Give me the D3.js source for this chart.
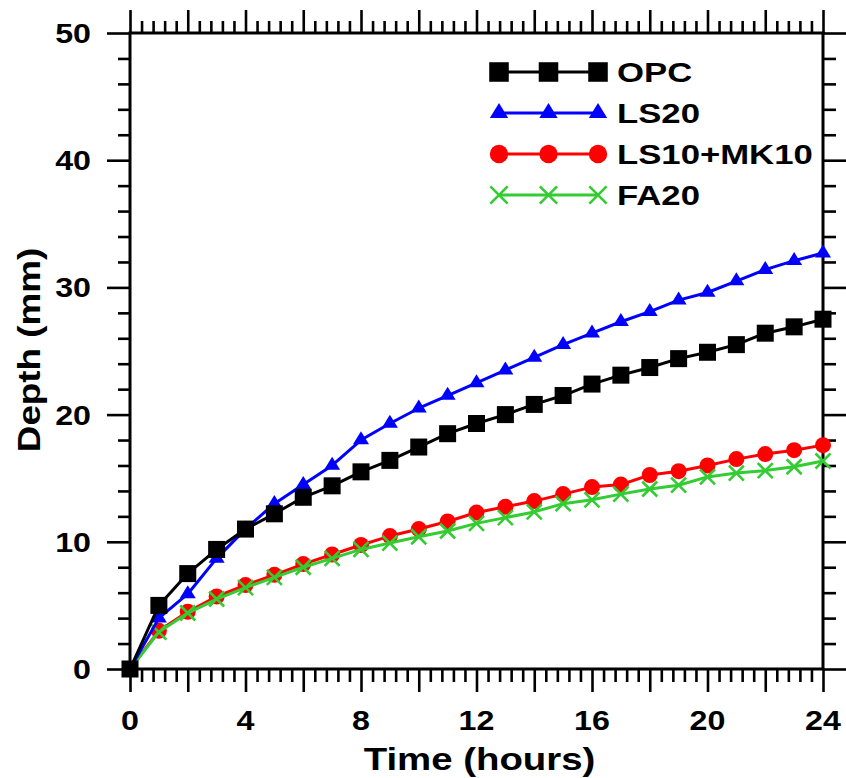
<!DOCTYPE html>
<html>
<head>
<meta charset="utf-8">
<script src="https://cdn.jsdelivr.net/npm/d3@7/dist/d3.min.js"></script>
<style>
  html, body { margin: 0; padding: 0; background: #fff; }
  text { font-family: "Liberation Sans", Arial, sans-serif; font-weight: bold; fill: #000; }
</style>
</head>
<body>
<svg id="chart" width="846" height="778"></svg>
<script>
// ---------- data ----------
const hours = d3.range(0, 25);
const opc   = [0,5.0,7.5,9.4,11.0,12.2,13.5,14.4,15.5,16.4,17.45,18.5,19.3,20.0,20.8,21.5,22.4,23.1,23.7,24.4,24.9,25.5,26.4,26.9,27.5];
const ls20  = [0,4.0,5.9,8.7,11.0,13.0,14.5,16.0,18.0,19.3,20.5,21.5,22.5,23.5,24.5,25.5,26.4,27.3,28.1,29.0,29.6,30.5,31.4,32.1,32.7];
const ls10mk10 = [0,3.0,4.5,5.7,6.6,7.4,8.25,9.0,9.75,10.45,11.0,11.6,12.3,12.75,13.2,13.75,14.3,14.5,15.25,15.55,16.0,16.5,16.9,17.2,17.6];
const fa20  = [0,2.9,4.4,5.5,6.4,7.2,8.0,8.7,9.4,9.9,10.4,10.85,11.45,11.9,12.35,13.0,13.3,13.75,14.15,14.45,15.1,15.4,15.6,15.9,16.35];
const seriesNames = ["OPC", "LS20", "LS10+MK10", "FA20"];
const xTickLabels = [0, 4, 8, 12, 16, 20, 24];
const yTickLabels = [0, 10, 20, 30, 40, 50];

// ---------- setup ----------
const svg = d3.select("#chart");
const x = d3.scaleLinear().domain([0, 24]).range([130, 823]);
const y = d3.scaleLinear().domain([0, 50]).range([669, 33]);

const series = [
  { name: "LS10+MK10", values: ls10mk10, color: "#ff0000", marker: "circle" },
  { name: "FA20", values: fa20, color: "#33cc33", marker: "x" },
  { name: "LS20", values: ls20, color: "#0000ff", marker: "triangle" },
  { name: "OPC", values: opc, color: "#000000", marker: "square" }
];
const styleOf = {};
series.forEach(s => styleOf[s.name] = s);

function stretchText(parent, px, py, str, size, anchor, sx, rot) {
  return parent.append("text")
    .attr("transform", `translate(${px},${py})` + (rot ? ` rotate(${rot})` : "") + ` scale(${sx},1)`)
    .attr("text-anchor", anchor)
    .attr("font-size", size)
    .text(str);
}

function drawMarker(g, kind, cx, cy, color, k) {
  if (kind === "square") {
    const s = 17 * k;
    g.append("rect").attr("x", cx - s/2).attr("y", cy - s/2).attr("width", s).attr("height", s).attr("fill", color);
  } else if (kind === "circle") {
    g.append("circle").attr("cx", cx).attr("cy", cy).attr("r", 8 * k).attr("fill", color);
  } else if (kind === "triangle") {
    const w = 16 * k, h = 13 * k;
    g.append("path")
      .attr("d", `M${cx},${cy - 2*h/3}L${cx + w/2},${cy + h/3}L${cx - w/2},${cy + h/3}Z`)
      .attr("fill", color);
  } else if (kind === "x") {
    const a = 7.5 * k;
    g.append("path")
      .attr("d", `M${cx-a},${cy-a}L${cx+a},${cy+a}M${cx-a},${cy+a}L${cx+a},${cy-a}`)
      .attr("stroke", color).attr("stroke-width", 2.6).attr("fill", "none");
  }
}

// ---------- axes (ticks) ----------
const majorX = d3.range(0, 13).map(i => i * 2);
const minorX = d3.range(0, 61).filter(i => i % 5 !== 0).map(i => i * 0.4);
const majorY = yTickLabels;
const minorY = d3.range(0, 26).filter(i => i % 5 !== 0).map(i => i * 2);

const axG = svg.append("g");
function tickAxis(axisFn, scale, vals, size, transform) {
  const a = axisFn(scale).tickValues(vals).tickSize(size).tickSizeOuter(0).tickFormat("");
  const g = axG.append("g").attr("transform", transform).call(a);
  g.select(".domain").remove();
  g.selectAll(".tick line").attr("stroke", "#000").attr("stroke-width", 2.6);
  return g;
}
// bottom
tickAxis(d3.axisBottom, x, majorX, 23, `translate(0,669)`);
tickAxis(d3.axisBottom, x, minorX, 13, `translate(0,669)`);
// top
tickAxis(d3.axisTop, x, majorX, 23, `translate(0,33)`);
tickAxis(d3.axisTop, x, minorX, 12, `translate(0,33)`);
// left
tickAxis(d3.axisLeft, y, majorY, 23, `translate(130,0)`);
tickAxis(d3.axisLeft, y, minorY, 12, `translate(130,0)`);
// right
tickAxis(d3.axisRight, y, majorY, 23, `translate(823,0)`);
tickAxis(d3.axisRight, y, minorY, 13, `translate(823,0)`);

// frame
svg.append("rect")
  .attr("x", x(0)).attr("y", y(50))
  .attr("width", x(24) - x(0)).attr("height", y(0) - y(50))
  .attr("fill", "none").attr("stroke", "#000").attr("stroke-width", 3);

// tick labels
xTickLabels.forEach(v => stretchText(svg, x(v), 730, String(v), 28, "middle", 1.15));
yTickLabels.forEach(v => stretchText(svg, 91, y(v) + 10, String(v), 28, "end", 1.15));

// axis titles
stretchText(svg, x(12) + 3, 770, "Time (hours)", 32, "middle", 1.2);
stretchText(svg, 40, 350, "Depth (mm)", 32, "middle", 1.15, -90);

// ---------- series ----------
const line = d3.line().x((d, i) => x(hours[i])).y(d => y(d));
series.forEach(s => {
  const g = svg.append("g");
  g.append("path").datum(s.values).attr("d", line)
    .attr("fill", "none").attr("stroke", s.color).attr("stroke-width", 3).attr("stroke-linejoin", "round");
  s.values.forEach((v, i) => drawMarker(g, s.marker, x(hours[i]), y(v), s.color, 1));
});

// ---------- legend ----------
const leg = svg.append("g");
seriesNames.forEach((name, i) => {
  const s = styleOf[name];
  const ly = 72 + i * 41;
  leg.append("line").attr("x1", 499).attr("x2", 598).attr("y1", ly).attr("y2", ly)
    .attr("stroke", s.color).attr("stroke-width", 3);
  [499, 548.5, 598].forEach(mx => drawMarker(leg, s.marker, mx, ly, s.color, 1.15));
  stretchText(leg, 617, ly + 10, name, 28, "start", 1.24);
});
</script>
</body>
</html>
